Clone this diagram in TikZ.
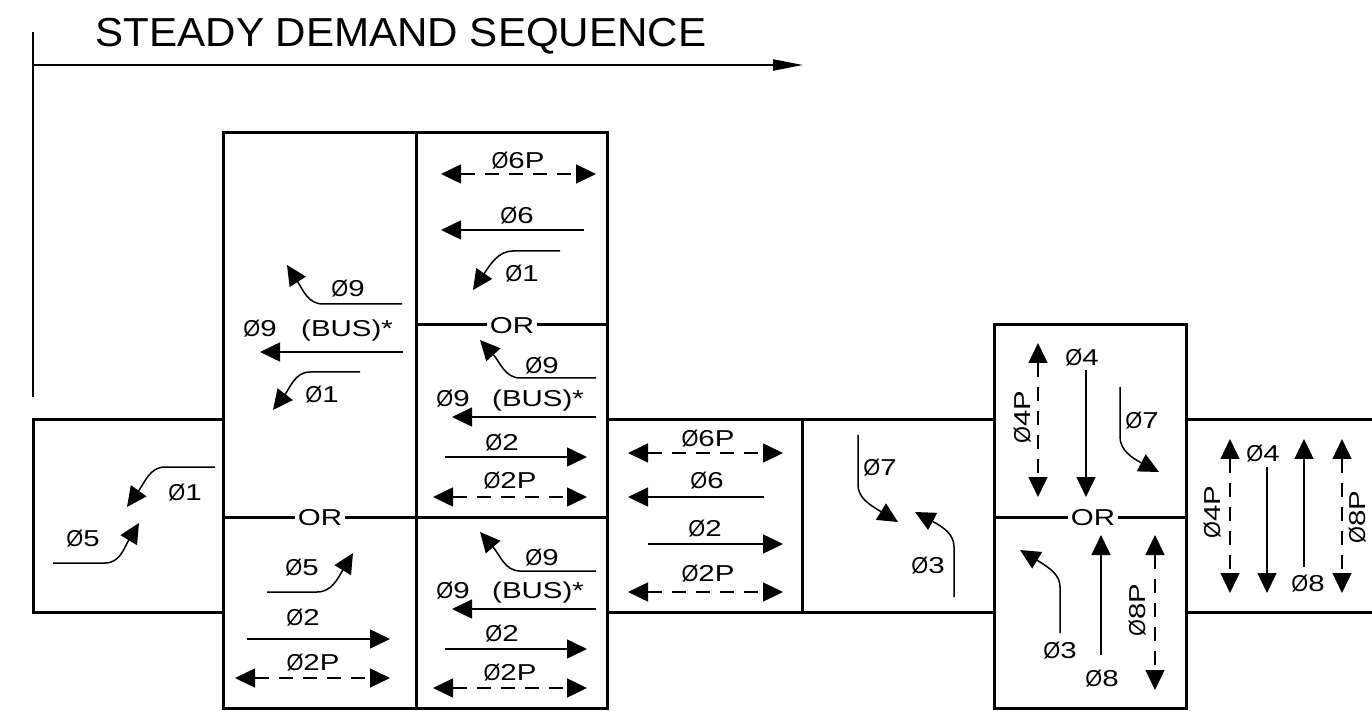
\documentclass[tikz,border=0pt]{standalone}
\usepackage{fontspec}
\usetikzlibrary{arrows.meta}
\newfontfamily\lblfont[FakeStretch=1.28]{Liberation Sans}
\newfontfamily\ttlfont[FakeStretch=1.04]{Liberation Sans}
% phase symbol: a slashed circle of digit height
\newcommand\phs{\scalebox{0.74}[1]{Ø}}
\tikzset{
  frame/.style={line width=1.5pt},
  axis/.style={line width=1.1pt},
  sig/.style={line width=0.75pt, -{Triangle[length=10pt,width=9.5pt]}},
  sigb/.style={line width=0.75pt, dash pattern=on 7pt off 5pt,
    {Triangle[length=10pt,width=9.5pt]}-{Triangle[length=10pt,width=9.5pt]}},
  lbl/.style={font=\lblfont\fontsize{11.5pt}{13pt}\selectfont, inner sep=0pt,
    text height=8.2pt, text depth=0pt},
  orlbl/.style={lbl, fill=white, inner xsep=1.5pt},
  ttl/.style={font=\ttlfont\fontsize{20.25pt}{24pt}\selectfont, inner sep=0pt,
    text height=14.5pt, text depth=0pt},
}
\begin{document}
\begin{tikzpicture}[x=0.5pt,y=-0.5pt]
\useasboundingbox (0,0) rectangle (1372,711);

% sequence axis and heading
\node[ttl] (title) at (401,32.5) {STEADY DEMAND SEQUENCE};
\draw[axis] (33,32) -- (33,397);
\draw[axis,-{Triangle[length=15pt,width=5.5pt]}] (33,65) -- (803,65);

% frames
\draw[frame] (33,420) rectangle (223,612);
\draw[frame] (223,133) rectangle (416,708);
\draw[frame] (416,133) rectangle (607,708);
\draw[frame] (607,420) rectangle (802,612);
\draw[frame] (802,420) rectangle (994,612);
\draw[frame] (994,325) rectangle (1186,708);
\draw[frame] (1186,420) -- (1372,420);
\draw[frame] (1186,612) -- (1372,612);
\draw[frame] (416,517) -- (607,517);
\draw[frame] (416,325) -- (607,325);
\draw[frame] (223,517) -- (416,517);
\draw[frame] (994,517) -- (1186,517);
\node[orlbl] (or1) at (512,325) {OR};
\node[orlbl] (or2) at (320,517) {OR};
\node[orlbl] (or3) at (1093,517) {OR};

% first interval
\draw[sig] (215,467) -- (165,467) .. controls (150,467) and (145,482) .. (127,507);
\node[lbl] (a1) at (185,492) {\phs1};
\draw[sig] (53,563) -- (105,563) .. controls (120,563) and (124,548) .. (139,523);
\node[lbl] (a5) at (83,538) {\phs5};

% second interval, upper alternative
\draw[sig] (402,304) -- (323,304) .. controls (308,304) and (303,290) .. (287,265);
\node[lbl] (b9) at (348,288) {\phs9};
\node[lbl] (b9b) at (260,328) {\phs9};
\node[lbl] (bbus) at (347,328) {(BUS)*};
\draw[sig] (403,352) -- (260,352);
\draw[sig] (360,372) -- (310,372) .. controls (295,372) and (290,388) .. (273,410);
\node[lbl] (b1) at (322,394) {\phs1};

% second interval, lower alternative
\draw[sig] (267,592) -- (317,592) .. controls (332,592) and (338,578) .. (353,553);
\node[lbl] (c5) at (302,567) {\phs5};
\node[lbl] (c2) at (303,617) {\phs2};
\draw[sig] (247,639) -- (390,639);
\node[lbl] (c2p) at (313,662) {\phs2P};
\draw[sigb] (235,678) -- (390,678);

% third interval, top
\node[lbl] (d6p) at (518,160) {\phs6P};
\draw[sigb] (441,174) -- (596,174);
\node[lbl] (d6) at (517,215) {\phs6};
\draw[sig] (584,230) -- (441,230);
\draw[sig] (560,251) -- (513,251) .. controls (498,251) and (490,265) .. (473,290);
\node[lbl] (d1) at (522,273) {\phs1};

% third interval, middle
\draw[sig] (596,378) -- (520,378) .. controls (505,378) and (500,362) .. (480,340);
\node[lbl] (e9) at (542,365) {\phs9};
\node[lbl] (e9b) at (453,398) {\phs9};
\node[lbl] (ebus) at (538,398) {(BUS)*};
\draw[sig] (596,417) -- (452,417);
\node[lbl] (e2) at (502,442) {\phs2};
\draw[sig] (445,457) -- (587,457);
\node[lbl] (e2p) at (510,480) {\phs2P};
\draw[sigb] (433,497) -- (587,497);

% third interval, bottom
\draw[sig] (596,571) -- (520,571) .. controls (505,571) and (500,555) .. (480,532);
\node[lbl] (f9) at (542,557) {\phs9};
\node[lbl] (f9b) at (453,590) {\phs9};
\node[lbl] (fbus) at (538,590) {(BUS)*};
\draw[sig] (596,609) -- (452,609);
\node[lbl] (f2) at (502,633) {\phs2};
\draw[sig] (445,649) -- (587,649);
\node[lbl] (f2p) at (510,672) {\phs2P};
\draw[sigb] (433,688) -- (587,688);

% fourth interval
\node[lbl] (g6p) at (708,438) {\phs6P};
\draw[sigb] (628,453) -- (783,453);
\node[lbl] (g6) at (707,480) {\phs6};
\draw[sig] (764,497) -- (628,497);
\node[lbl] (g2) at (705,528) {\phs2};
\draw[sig] (648,544) -- (783,544);
\node[lbl] (g2p) at (708,573) {\phs2P};
\draw[sigb] (628,592) -- (783,592);

% fifth interval
\draw[sig] (858,435) -- (858,485) .. controls (858,498) and (870,505) .. (898,522);
\node[lbl] (h7) at (880,467) {\phs7};
\draw[sig] (954,597) -- (954,547) .. controls (954,535) and (945,528) .. (915,512);
\node[lbl] (h3) at (928,565) {\phs3};

% sixth interval
\draw[sigb] (1038,343) -- (1038,497);
\node[lbl,rotate=90] (i4p) at (1022,417) {\phs4P};
\node[lbl] (i4) at (1082,357) {\phs4};
\draw[sig] (1086,370) -- (1086,497);
\draw[sig] (1120,387) -- (1120,437) .. controls (1120,450) and (1132,458) .. (1159,472);
\node[lbl] (i7) at (1142,420) {\phs7};
\draw[sig] (1060,633) -- (1060,587) .. controls (1060,575) and (1050,568) .. (1020,550);
\node[lbl] (i3) at (1060,650) {\phs3};
\draw[sig] (1101,655) -- (1101,535);
\node[lbl] (i8) at (1102,678) {\phs8};
\draw[sigb] (1155,535) -- (1155,690);
\node[lbl,rotate=90] (i8p) at (1137,610) {\phs8P};

% seventh interval
\draw[sigb] (1230,439) -- (1230,593);
\node[lbl,rotate=90] (j4p) at (1212,512) {\phs4P};
\node[lbl] (j4) at (1263,453) {\phs4};
\draw[sig] (1267,467) -- (1267,593);
\draw[sig] (1304,567) -- (1304,439);
\node[lbl] (j8) at (1308,583) {\phs8};
\draw[sigb] (1342,439) -- (1342,593);
\node[lbl,rotate=90] (j8p) at (1357,517) {\phs8P};
\end{tikzpicture}
\end{document}
